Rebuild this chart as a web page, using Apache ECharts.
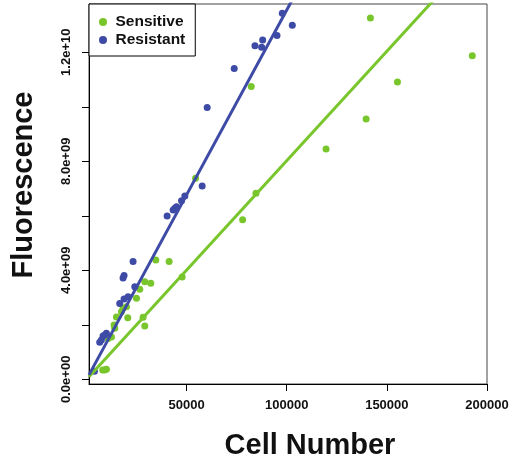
<!DOCTYPE html>
<html><head><meta charset="utf-8">
<script src="https://cdn.jsdelivr.net/npm/echarts@6/dist/echarts.min.js"></script>
<style>html,body{margin:0;padding:0;background:#fff}#c{width:518px;height:464px}</style>
</head><body><div id="c"></div>
<script>
const seriesNames = ['Sensitive', 'Resistant'];
const sensitiveX = [141800, 192650, 155300, 139650, 119650, 82300, 84650, 78000, 54500, 34650, 41300, 47800, 32150, 29150, 26650, 25000, 20000, 18300, 17500, 20650, 28300, 29150, 15000, 13800, 14150, 12500, 10800, 9150, 10000, 8150];
const sensitiveY = [1.326e10, 1.187e10, 1.091e10, 9.55e9, 8.45e9, 1.074e10, 6.83e9, 5.85e9, 7.38e9, 4.38e9, 4.32e9, 3.75e9, 3.52e9, 3.58e9, 3.30e9, 2.97e9, 2.66e9, 2.61e9, 2.48e9, 2.26e9, 2.28e9, 1.96e9, 2.29e9, 1.99e9, 1.87e9, 1.55e9, 1.50e9, 3.4e8, 3.7e8, 3.4e8];
const resistantX = [97800, 102800, 95150, 88000, 84150, 87500, 73800, 60300, 57800, 49150, 47500, 45000, 44150, 43300, 40300, 23300, 18800, 18300, 24150, 20800, 18800, 16650, 10000, 9150, 8300, 7500, 6650, 4000];
const resistantY = [1.343e10, 1.299e10, 1.261e10, 1.245e10, 1.224e10, 1.218e10, 1.140e10, 9.97e9, 7.09e9, 6.73e9, 6.55e9, 6.33e9, 6.28e9, 6.21e9, 5.99e9, 4.32e9, 3.81e9, 3.72e9, 3.40e9, 3.03e9, 2.95e9, 2.78e9, 1.69e9, 1.63e9, 1.59e9, 1.44e9, 1.36e9, 3.0e8];
const fitSensitive = {intercept: -9.4e6, slope: 80300};
const fitResistant = {intercept: -1.4e7, slope: 135600};
const xRange = [1300, 200000];
const yRange = [-1.72e8, 1.377e10];
const xTicks = [50000, 100000, 150000, 200000];
const yTicks = [0, 2e9, 4e9, 6e9, 8e9, 1e10, 1.2e10];
const yTickLabels = [0, 4e9, 8e9, 1.2e10];

const GREEN = '#78C62C', BLUE = '#3E4BA6';
const FONT = '"Liberation Sans", Arial, sans-serif';

function zip(xs, ys) { return xs.map((x, i) => [x, ys[i]]); }
function fitLine(f) { return xRange.map(x => [x, f.intercept + f.slope * x]); }
function expFmt(v) {
  return v.toExponential(1).replace(/e([+-])(\d+)$/, (m, s, d) => 'e' + s + (d.length < 2 ? '0' + d : d));
}

const chart = echarts.init(document.getElementById('c'), null, {renderer: 'canvas'});
chart.setOption({
  animation: false,
  backgroundColor: '#fff',
  grid: {left: 89, right: 31, top: 4, bottom: 80, show: true, borderColor: '#444', borderWidth: 1, backgroundColor: 'transparent'},
  legend: {
    data: seriesNames, left: 89, top: 4, orient: 'vertical', icon: 'circle',
    itemWidth: 15, itemHeight: 8, itemGap: 2, padding: [10, 10, 8, 10],
    borderColor: '#000', borderWidth: 1, backgroundColor: '#fff',
    textStyle: {fontFamily: FONT, fontWeight: 'bold', fontSize: 15.5, color: '#111'}
  },
  xAxis: {
    type: 'value', min: xRange[0], max: xRange[1],
    axisLine: {show: true, onZero: false, lineStyle: {color: '#000', width: 1}},
    axisTick: {show: true, inside: false, length: 7, customValues: xTicks, lineStyle: {color: '#000'}},
    axisLabel: {customValues: xTicks, formatter: v => String(v), fontFamily: FONT, fontWeight: 'bold', fontSize: 13, color: '#111', margin: 15},
    splitLine: {show: false}
  },
  yAxis: {
    type: 'value', min: yRange[0], max: yRange[1],
    axisLine: {show: true, onZero: false, lineStyle: {color: '#000', width: 1}},
    axisTick: {show: true, inside: false, length: 7, customValues: yTicks, lineStyle: {color: '#000'}},
    axisLabel: {customValues: yTickLabels, rotate: 90, formatter: expFmt, fontFamily: FONT, fontWeight: 'bold', fontSize: 13, color: '#111', margin: 16},
    splitLine: {show: false}
  },
  graphic: [
    {type: 'text', x: 24, y: 185, rotation: Math.PI / 2,
     style: {text: 'Fluorescence', fontFamily: FONT, fontWeight: 'bold', fontSize: 29, fill: '#111', align: 'center', verticalAlign: 'middle'}},
    {type: 'text', x: 310, y: 446,
     style: {text: 'Cell Number', fontFamily: FONT, fontWeight: 'bold', fontSize: 29, fill: '#111', align: 'center', verticalAlign: 'middle'}}
  ],
  series: [
    {name: seriesNames[0], type: 'scatter', data: zip(sensitiveX, sensitiveY), symbol: 'circle', symbolSize: 7, itemStyle: {color: GREEN, opacity: 1}},
    {name: seriesNames[1], type: 'scatter', data: zip(resistantX, resistantY), symbol: 'circle', symbolSize: 7, itemStyle: {color: BLUE, opacity: 1}},
    {name: 'fitS', type: 'line', data: fitLine(fitSensitive), symbol: 'none', clip: true, lineStyle: {color: GREEN, width: 3}, silent: true},
    {name: 'fitR', type: 'line', data: fitLine(fitResistant), symbol: 'none', clip: true, lineStyle: {color: BLUE, width: 3}, silent: true}
  ]
});
</script>
</body></html>
